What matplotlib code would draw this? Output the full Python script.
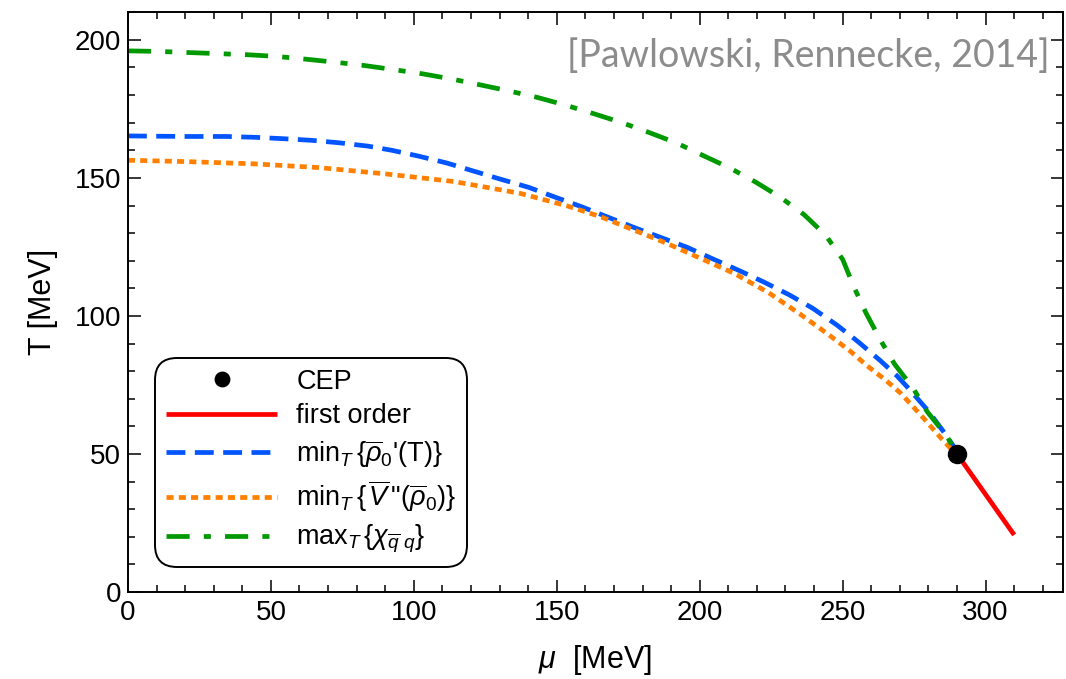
import numpy as np
import matplotlib.pyplot as plt
from matplotlib.ticker import MultipleLocator

plt.rcParams['font.family'] = ['Liberation Sans', 'DejaVu Sans']
plt.rcParams['mathtext.fontset'] = 'custom'
plt.rcParams['mathtext.rm'] = 'Liberation Sans'
plt.rcParams['mathtext.it'] = 'Liberation Sans:italic'
plt.rcParams['mathtext.bf'] = 'Liberation Sans:bold'

# max_T chi (green)
mu_chi = [0, 11, 21.1, 31.6, 41.9, 52, 62.2, 72.5, 82.7, 93, 103, 113.3, 123.2, 133.2, 143,
          152.9, 163.1, 172.8, 182.4, 192, 201.4, 210.7, 219.7, 228.2, 236.6, 244, 250,
          253.9, 258.2, 263.2, 268.2, 272, 275, 279.6, 286.6, 290]
T_chi = [196, 195.8, 195.4, 195, 194.6, 194, 193, 191.9, 190.7, 189.2, 187.7, 185.8, 183.7,
         181.5, 179.2, 176.4, 173.2, 170, 166.4, 162.6, 158, 153.5, 148.4, 143, 136.6, 129.3,
         120.5, 110.6, 101, 91.3, 82.5, 77.4, 73.2, 65.3, 56.2, 50]

# min_T rho0'(T) (blue)
mu_rho = [0, 20.6, 34.4, 44.4, 54.3, 64.3, 74, 84, 92.3, 101.6, 111.5, 120.8, 130.1, 140.1,
          149.5, 158.8, 176.9, 195.5, 204.5, 213.9, 222.6, 231.4, 239.5, 248, 255.6, 263.2,
          269, 272.5, 279.7, 285, 290]
T_rho = [165.2, 165, 165, 164.7, 164.2, 163.6, 162.7, 161.5, 160, 157.9, 155.4, 152.5,
         149.6, 146.6, 143, 139.5, 132.1, 124.9, 120.7, 116.4, 112.2, 107.6, 102.8, 96.7,
         90.5, 83.8, 78.3, 74.4, 65.9, 58.5, 51]

# min_T V''(rho0) (orange)
mu_V = [0, 20.5, 43.9, 67.2, 90.5, 113.9, 130.2, 137.2, 153.5, 165.2, 188.5, 211.9, 224,
        235.2, 245, 252.7, 258.5, 265, 270.2, 277, 284.2, 290]
T_V = [156.4, 155.9, 155.1, 153.7, 151.4, 148.7, 145.7, 144.4, 139.9, 136, 126.3, 115.5,
       108.5, 100.6, 93.3, 87.2, 82, 76.8, 72.1, 64.5, 56, 49.5]

# first order line and CEP
mu_fo = [290, 310]
T_fo = [50, 20.7]
mu_cep = [290]
T_cep = [50]

fig = plt.figure(figsize=(10.66, 6.79), dpi=100)
ax = fig.add_axes([0.12, 0.128, 0.877, 0.854])

lw = 3.4
ax.plot(mu_fo, T_fo, color='#ff0000', lw=lw, solid_capstyle='butt', label='first order')
ax.plot(mu_rho, T_rho, color='#0055ff', lw=lw, dashes=(4, 2), dash_capstyle='butt',
        label=r'min$_T\,\{\overline{\rho}_0$' + "'(T)" + r'$\}$')
ax.plot(mu_V, T_V, color='#ff8000', lw=lw, dashes=(1.5, 1.1), dash_capstyle='butt',
        label=r'min$_T\,\{\,\overline{V}\,$' + '"' + r'$(\overline{\rho}_0)\}$')
ax.plot(mu_chi, T_chi, color='#009900', lw=lw, dashes=(4.9, 3, 1.5, 3), dash_capstyle='butt',
        label=r'max$_T\,\{\chi_{\overline{q}\ q}\}$')
ax.plot(mu_cep, T_cep, 'o', color='black', ms=13, zorder=5, label='CEP')

ax.set_xlim(0, 327)
ax.set_ylim(0, 210)
ax.xaxis.set_major_locator(MultipleLocator(50))
ax.xaxis.set_minor_locator(MultipleLocator(10))
ax.yaxis.set_major_locator(MultipleLocator(50))
ax.yaxis.set_minor_locator(MultipleLocator(10))
ax.tick_params(which='both', direction='in', top=True, right=True, width=1.1, labelsize=20)
ax.tick_params(which='major', length=9)
ax.tick_params(which='minor', length=5)
ax.tick_params(axis='x', pad=6)
ax.tick_params(axis='y', pad=5)
for s in ax.spines.values():
    s.set_linewidth(1.4)

ax.set_xlabel(r'$\mu$  [MeV]', fontsize=22, labelpad=12)
ax.set_ylabel('T [MeV]', fontsize=22, labelpad=12)

ax.text(0.986, 0.924, '[Pawlowski, Rennecke, 2014]', transform=ax.transAxes,
        ha='right', va='center', fontsize=27, color='#8c8c8c', family='Lato')

h, l = ax.get_legend_handles_labels()
order = [4, 0, 1, 2, 3]
leg = ax.legend([h[i] for i in order], [l[i] for i in order], loc='lower left',
                bbox_to_anchor=(0.015, 0.02), fontsize=19.5, handlelength=4.1,
                markerscale=0.8, fancybox=True, framealpha=1, edgecolor='black',
                borderpad=0.4, labelspacing=0.32, handletextpad=0.7)
leg.get_frame().set_linewidth(1.4)
leg.get_frame().set_boxstyle('round', pad=0, rounding_size=0.8)

fig.savefig('out.png', dpi=100)
